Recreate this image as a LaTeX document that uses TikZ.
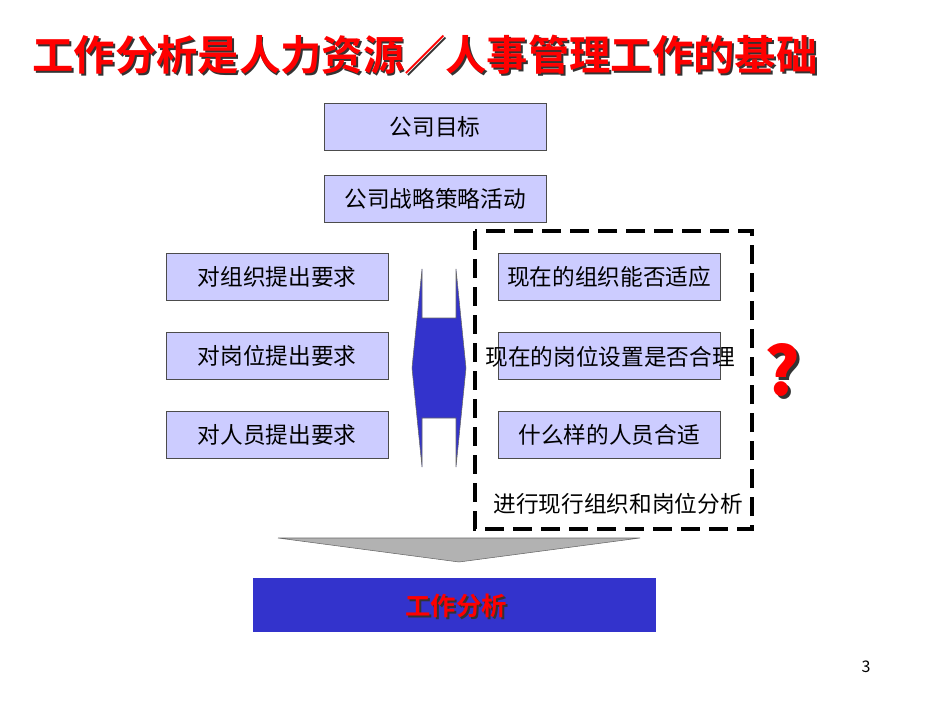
\documentclass[tikz,border=0pt]{standalone}
\usepackage{fontspec}
\setmainfont{Noto Sans CJK SC}
\newfontfamily\cjkbold{Noto Sans CJK SC Bold}
\usetikzlibrary{positioning}
\definecolor{boxfill}{RGB}{204,204,255}
\definecolor{bandblue}{RGB}{51,51,204}
\tikzset{
  req/.style = {draw = black!70, fill = boxfill, minimum width = 166.5pt, minimum height = 35pt, font = \fontsize{17}{19}\selectfont},
  note/.style = {font = \fontsize{17}{19}\selectfont},
}
\begin{document}
\begin{tikzpicture}[x = .75pt, y = -.75pt]
                \useasboundingbox (0,0) rectangle (950,713);
                \node[font = \cjkbold\fontsize{31}{33}\selectfont, text = black!80] at (427,57) {工作分析是人力资源／人事管理工作的基础};
                \node[font = \cjkbold\fontsize{31}{33}\selectfont, text = red] (title) at (425,55) {工作分析是人力资源／人事管理工作的基础};
                \node[req] (goal) at (435,126.5) {公司目标};
                \node[req] (strat) at (435,198.5) {公司战略策略活动};
                \node[req] (org) at (277,276.5) {对组织提出要求};
                \node[req] (post) at (277,355.5) {对岗位提出要求};
                \node[req] (staff) at (277,434.5) {对人员提出要求};
                \node[req] (orgq) at (609,276.5) {现在的组织能否适应};
                \node[req] (postq) at (609,355.5) {};
                \node[req] (staffq) at (609,434.5) {什么样的人员合适};
                \node[note] (postt) at (610,357) {现在的岗位设置是否合理};
                \node[note] (scope) at (618,504) {进行现行组织和岗位分析};
                \draw[line width = 2.7pt, dash pattern = on 14pt off 7pt] (475,231) rectangle (752,529);
                \filldraw[fill = bandblue, draw = black!60] (422,269) -- (422,318) -- (456,318) -- (456,269) -- (466,368) -- (456,467) -- (456,418) -- (422,418) -- (422,467) -- (412,368) -- cycle;
                \node[font = \bfseries\fontsize{50}{50}\selectfont, text = black!80] at (785,373) {?};
                \node[font = \bfseries\fontsize{50}{50}\selectfont, text = red] (ask) at (782,370) {?};
                \filldraw[fill = black!30, draw = black!60] (278,538) -- (640,538) -- (459,562) -- cycle;
                \node[fill = bandblue, minimum width = 302pt, minimum height = 40.5pt] (job) at (454.5,605) {};
                \node[font = \cjkbold\fontsize{19}{21}\selectfont, text = black!80] at (458,608) {工作分析};
                \node[font = \cjkbold\fontsize{19}{21}\selectfont, text = red] at (456,606) {工作分析};
                \node[font = \fontsize{12}{14}\selectfont] (page) at (866,667) {3};
            \end{tikzpicture}
\end{document}
